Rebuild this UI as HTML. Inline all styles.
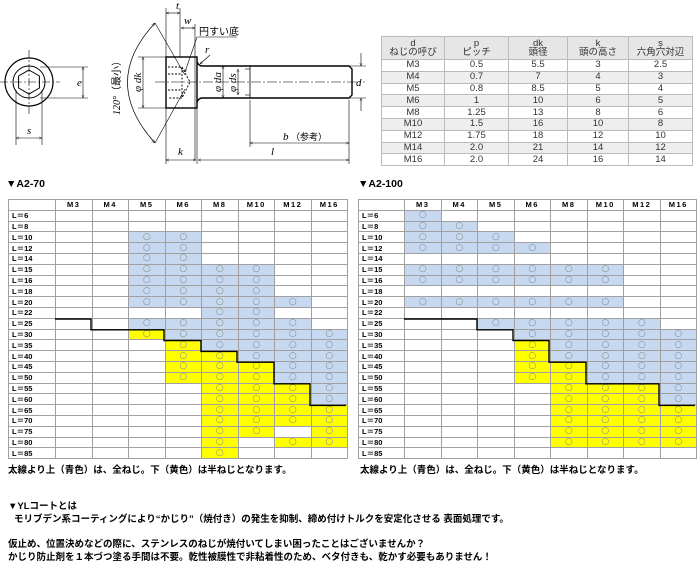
<!DOCTYPE html>
<html><head><meta charset="utf-8">
<style>
body{margin:0;width:700px;height:570px;background:#fff;position:relative;overflow:hidden;font-family:"Liberation Sans","Noto Sans CJK JP",sans-serif;color:#000}
.abs{position:absolute}
table{border-collapse:collapse;table-layout:fixed;position:absolute}
.g td{border:1px solid #a0a0a0;height:9.8px;padding:0;font-size:9px;line-height:9px;text-align:center;color:#888;overflow:hidden;white-space:nowrap;font-family:"DejaVu Sans",sans-serif}
.g td.l{text-align:left;padding-left:3px;font-weight:bold;color:#000;font-size:7.5px;font-family:"Liberation Sans","Noto Sans CJK JP",sans-serif}
.g tr.h td{font-weight:bold;color:#000;letter-spacing:1.5px;font-size:7.5px;font-family:"Liberation Sans",sans-serif}
.g td.b{background:#c6d9f0}
.g td.y{background:#ffff00}
.s td{border:1px solid #bbb;padding:0;font-size:9.5px;text-align:center;color:#333;height:10.8px;line-height:10px}
.s tr.hd td{background:#e6e6e6;line-height:9.5px;height:22px}
.s tr.a td{background:#eeeeee}
.t{font-weight:bold;font-size:10.5px}
.n{font-weight:bold;font-size:9.5px}
</style></head><body>

<svg class="abs" style="left:0;top:0" width="380" height="175" viewBox="0 0 380 175" font-family="Liberation Serif" font-style="italic" font-size="11">
<defs><marker id="a" viewBox="0 0 10 10" refX="10" refY="5" markerWidth="5" markerHeight="5" orient="auto-start-reverse"><path d="M0,1 L10,5 L0,9" fill="none" stroke="#000" stroke-width="1.2"/></marker></defs>
<g stroke="#000" fill="none" stroke-width="1">
<circle cx="29" cy="82" r="24" stroke-width="1.2"/>
<circle cx="29" cy="82" r="16"/>
<polygon points="29,70 39.4,76 39.4,88 29,94 18.6,88 18.6,76"/>
<line x1="0" y1="82" x2="60" y2="82" stroke-width="0.6" stroke-dasharray="8,2,2,2"/>
<line x1="29" y1="50" x2="29" y2="114" stroke-width="0.6" stroke-dasharray="8,2,2,2"/>
<line x1="40" y1="67" x2="88" y2="67" stroke-width="0.6"/>
<line x1="40" y1="98" x2="88" y2="98" stroke-width="0.6"/>
<line x1="83" y1="67" x2="83" y2="98" stroke-width="0.6" marker-start="url(#a)" marker-end="url(#a)"/>
<line x1="16" y1="90" x2="16" y2="145" stroke-width="0.6"/>
<line x1="42" y1="90" x2="42" y2="145" stroke-width="0.6"/>
<line x1="16" y1="138" x2="42" y2="138" stroke-width="0.6" marker-start="url(#a)" marker-end="url(#a)"/>
<rect x="166" y="57" width="31" height="51" stroke-width="1.4"/>
<path d="M197,62 Q199,66 202,66 L349,66 L352,69 L352,95 L349,98 L202,98 Q199,98 197,102" stroke-width="1.4"/>
<line x1="250" y1="66" x2="250" y2="98" stroke-width="0.8"/>
<line x1="245" y1="69" x2="250" y2="69" stroke-width="0.6"/>
<line x1="245" y1="95" x2="250" y2="95" stroke-width="0.6"/>
<path d="M168,67 L182,67 L190,82 L182,98 L168,98 M168,74 L182,74 M168,90 L182,90 M182,67 L182,98" stroke-dasharray="2,1.5" stroke-width="0.9"/>
<line x1="155" y1="82" x2="365" y2="82" stroke-width="0.6" stroke-dasharray="10,2,2,2"/>
<line x1="138" y1="57" x2="166" y2="57" stroke-width="0.6"/>
<line x1="138" y1="108" x2="166" y2="108" stroke-width="0.6"/>
<line x1="143" y1="57" x2="143" y2="108" stroke-width="0.6" marker-start="url(#a)" marker-end="url(#a)"/>
<path d="M155,23 Q100,82 155,143" stroke-width="0.7" marker-start="url(#a)" marker-end="url(#a)"/>
<line x1="155" y1="23" x2="185" y2="75" stroke-width="0.6"/>
<line x1="155" y1="143" x2="185" y2="89" stroke-width="0.6"/>
<line x1="166" y1="8" x2="166" y2="57" stroke-width="0.6"/>
<line x1="180" y1="8" x2="180" y2="57" stroke-width="0.6"/>
<line x1="166" y1="13" x2="180" y2="13" stroke-width="0.6" marker-start="url(#a)" marker-end="url(#a)"/>
<line x1="195" y1="24" x2="195" y2="160" stroke-width="0.6"/>
<line x1="181" y1="28" x2="195" y2="28" stroke-width="0.6" marker-start="url(#a)" marker-end="url(#a)"/>
<line x1="197" y1="37" x2="237" y2="37" stroke-width="0.6"/>
<line x1="197" y1="37" x2="185" y2="72" stroke-width="0.6" marker-end="url(#a)"/>
<line x1="210" y1="55" x2="200" y2="64" stroke-width="0.6" marker-end="url(#a)"/>
<line x1="223" y1="66" x2="223" y2="98" stroke-width="0.6" marker-start="url(#a)" marker-end="url(#a)"/>
<line x1="238" y1="69" x2="238" y2="95" stroke-width="0.6" marker-start="url(#a)" marker-end="url(#a)"/>
<line x1="349" y1="66" x2="366" y2="66" stroke-width="0.6"/>
<line x1="349" y1="98" x2="366" y2="98" stroke-width="0.6"/>
<line x1="361" y1="53" x2="361" y2="66" stroke-width="0.6" marker-end="url(#a)"/>
<line x1="361" y1="111" x2="361" y2="98" stroke-width="0.6" marker-end="url(#a)"/>
<line x1="250" y1="100" x2="250" y2="147" stroke-width="0.6"/>
<line x1="349" y1="100" x2="349" y2="164" stroke-width="0.6"/>
<line x1="166" y1="108" x2="166" y2="164" stroke-width="0.6"/>
<line x1="197" y1="108" x2="197" y2="164" stroke-width="0.6"/>
<line x1="250" y1="143" x2="349" y2="143" stroke-width="0.6" marker-start="url(#a)" marker-end="url(#a)"/>
<line x1="166" y1="160" x2="196" y2="160" stroke-width="0.6" marker-start="url(#a)" marker-end="url(#a)"/>
<line x1="198" y1="160" x2="349" y2="160" stroke-width="0.6" marker-start="url(#a)" marker-end="url(#a)"/>
</g>
<g fill="#000">
<text x="77" y="86">e</text><text x="27" y="134">s</text>
<text x="176" y="9">t</text><text x="184" y="24">w</text><text x="205" y="53">r</text>
<text x="356" y="86">d</text><text x="178" y="155">k</text><text x="271" y="155">l</text>
<text x="283" y="140">b</text>
<text x="291" y="140" font-style="normal" font-size="9" font-family="Liberation Sans,Noto Sans CJK JP">（参考）</text>
<text x="199" y="35" font-style="normal" font-size="10" font-family="Liberation Sans,Noto Sans CJK JP">円すい底</text>
<text transform="translate(141,92) rotate(-90)">φ dk</text>
<text transform="translate(221,92) rotate(-90)">φ da</text>
<text transform="translate(236,92) rotate(-90)">φ ds</text>
<text transform="translate(120,115) rotate(-90)" font-size="10">120°<tspan font-style="normal" font-family="Noto Sans CJK JP">（最小）</tspan></text>
</g>
</svg>

<table class="s" style="left:381px;top:36px;width:311px">
<colgroup><col style="width:63px"><col style="width:64px"><col style="width:59px"><col style="width:61px"><col style="width:64px"></colgroup>
<tr class="hd"><td>d<br>ねじの呼び</td><td>p<br>ピッチ</td><td>dk<br>頭径</td><td>k<br>頭の高さ</td><td>s<br>六角穴対辺</td></tr>
<tr><td>M3</td><td>0.5</td><td>5.5</td><td>3</td><td>2.5</td></tr>
<tr class="a"><td>M4</td><td>0.7</td><td>7</td><td>4</td><td>3</td></tr>
<tr><td>M5</td><td>0.8</td><td>8.5</td><td>5</td><td>4</td></tr>
<tr class="a"><td>M6</td><td>1</td><td>10</td><td>6</td><td>5</td></tr>
<tr><td>M8</td><td>1.25</td><td>13</td><td>8</td><td>6</td></tr>
<tr class="a"><td>M10</td><td>1.5</td><td>16</td><td>10</td><td>8</td></tr>
<tr><td>M12</td><td>1.75</td><td>18</td><td>12</td><td>10</td></tr>
<tr class="a"><td>M14</td><td>2.0</td><td>21</td><td>14</td><td>12</td></tr>
<tr><td>M16</td><td>2.0</td><td>24</td><td>16</td><td>14</td></tr>
</table>

<div class="abs t" style="left:6px;top:178px">▼A2-70</div>
<div class="abs t" style="left:358px;top:178px">▼A2-100</div>

<table class="g" style="left:8px;top:199px;width:339px">
<colgroup><col style="width:47px"><col span="8" style="width:36.5px"></colgroup>
<tr class="h"><td class="l"></td><td>M3</td><td>M4</td><td>M5</td><td>M6</td><td>M8</td><td>M10</td><td>M12</td><td>M16</td></tr>
<tr><td class="l">L＝6</td><td></td><td></td><td></td><td></td><td></td><td></td><td></td><td></td></tr>
<tr><td class="l">L＝8</td><td></td><td></td><td></td><td></td><td></td><td></td><td></td><td></td></tr>
<tr><td class="l">L＝10</td><td></td><td></td><td class="b">○</td><td class="b">○</td><td></td><td></td><td></td><td></td></tr>
<tr><td class="l">L＝12</td><td></td><td></td><td class="b">○</td><td class="b">○</td><td></td><td></td><td></td><td></td></tr>
<tr><td class="l">L＝14</td><td></td><td></td><td class="b">○</td><td class="b">○</td><td></td><td></td><td></td><td></td></tr>
<tr><td class="l">L＝15</td><td></td><td></td><td class="b">○</td><td class="b">○</td><td class="b">○</td><td class="b">○</td><td></td><td></td></tr>
<tr><td class="l">L＝16</td><td></td><td></td><td class="b">○</td><td class="b">○</td><td class="b">○</td><td class="b">○</td><td></td><td></td></tr>
<tr><td class="l">L＝18</td><td></td><td></td><td class="b">○</td><td class="b">○</td><td class="b">○</td><td class="b">○</td><td></td><td></td></tr>
<tr><td class="l">L＝20</td><td></td><td></td><td class="b">○</td><td class="b">○</td><td class="b">○</td><td class="b">○</td><td class="b">○</td><td></td></tr>
<tr><td class="l">L＝22</td><td></td><td></td><td></td><td></td><td class="b">○</td><td class="b">○</td><td></td><td></td></tr>
<tr><td class="l">L＝25</td><td></td><td></td><td class="b">○</td><td class="b">○</td><td class="b">○</td><td class="b">○</td><td class="b">○</td><td></td></tr>
<tr><td class="l">L＝30</td><td></td><td></td><td class="y">○</td><td class="b">○</td><td class="b">○</td><td class="b">○</td><td class="b">○</td><td class="b">○</td></tr>
<tr><td class="l">L＝35</td><td></td><td></td><td></td><td class="y">○</td><td class="b">○</td><td class="b">○</td><td class="b">○</td><td class="b">○</td></tr>
<tr><td class="l">L＝40</td><td></td><td></td><td></td><td class="y">○</td><td class="y">○</td><td class="b">○</td><td class="b">○</td><td class="b">○</td></tr>
<tr><td class="l">L＝45</td><td></td><td></td><td></td><td class="y">○</td><td class="y">○</td><td class="y">○</td><td class="b">○</td><td class="b">○</td></tr>
<tr><td class="l">L＝50</td><td></td><td></td><td></td><td class="y">○</td><td class="y">○</td><td class="y">○</td><td class="b">○</td><td class="b">○</td></tr>
<tr><td class="l">L＝55</td><td></td><td></td><td></td><td></td><td class="y">○</td><td class="y">○</td><td class="y">○</td><td class="b">○</td></tr>
<tr><td class="l">L＝60</td><td></td><td></td><td></td><td></td><td class="y">○</td><td class="y">○</td><td class="y">○</td><td class="b">○</td></tr>
<tr><td class="l">L＝65</td><td></td><td></td><td></td><td></td><td class="y">○</td><td class="y">○</td><td class="y">○</td><td class="y">○</td></tr>
<tr><td class="l">L＝70</td><td></td><td></td><td></td><td></td><td class="y">○</td><td class="y">○</td><td class="y">○</td><td class="y">○</td></tr>
<tr><td class="l">L＝75</td><td></td><td></td><td></td><td></td><td class="y">○</td><td class="y">○</td><td></td><td class="y">○</td></tr>
<tr><td class="l">L＝80</td><td></td><td></td><td></td><td></td><td class="y">○</td><td></td><td class="y">○</td><td class="y">○</td></tr>
<tr><td class="l">L＝85</td><td></td><td></td><td></td><td></td><td class="y">○</td><td></td><td></td><td></td></tr>
</table>

<table class="g" style="left:358px;top:199px;width:338px">
<colgroup><col style="width:46px"><col span="8" style="width:36.5px"></colgroup>
<tr class="h"><td class="l"></td><td>M3</td><td>M4</td><td>M5</td><td>M6</td><td>M8</td><td>M10</td><td>M12</td><td>M16</td></tr>
<tr><td class="l">L＝6</td><td class="b">○</td><td></td><td></td><td></td><td></td><td></td><td></td><td></td></tr>
<tr><td class="l">L＝8</td><td class="b">○</td><td class="b">○</td><td></td><td></td><td></td><td></td><td></td><td></td></tr>
<tr><td class="l">L＝10</td><td class="b">○</td><td class="b">○</td><td class="b">○</td><td></td><td></td><td></td><td></td><td></td></tr>
<tr><td class="l">L＝12</td><td class="b">○</td><td class="b">○</td><td class="b">○</td><td class="b">○</td><td></td><td></td><td></td><td></td></tr>
<tr><td class="l">L＝14</td><td></td><td></td><td></td><td></td><td></td><td></td><td></td><td></td></tr>
<tr><td class="l">L＝15</td><td class="b">○</td><td class="b">○</td><td class="b">○</td><td class="b">○</td><td class="b">○</td><td class="b">○</td><td></td><td></td></tr>
<tr><td class="l">L＝16</td><td class="b">○</td><td class="b">○</td><td class="b">○</td><td class="b">○</td><td class="b">○</td><td class="b">○</td><td></td><td></td></tr>
<tr><td class="l">L＝18</td><td></td><td></td><td></td><td></td><td></td><td></td><td></td><td></td></tr>
<tr><td class="l">L＝20</td><td class="b">○</td><td class="b">○</td><td class="b">○</td><td class="b">○</td><td class="b">○</td><td class="b">○</td><td></td><td></td></tr>
<tr><td class="l">L＝22</td><td></td><td></td><td></td><td></td><td></td><td></td><td></td><td></td></tr>
<tr><td class="l">L＝25</td><td></td><td></td><td class="b">○</td><td class="b">○</td><td class="b">○</td><td class="b">○</td><td class="b">○</td><td></td></tr>
<tr><td class="l">L＝30</td><td></td><td></td><td></td><td class="b">○</td><td class="b">○</td><td class="b">○</td><td class="b">○</td><td class="b">○</td></tr>
<tr><td class="l">L＝35</td><td></td><td></td><td></td><td class="y">○</td><td class="b">○</td><td class="b">○</td><td class="b">○</td><td class="b">○</td></tr>
<tr><td class="l">L＝40</td><td></td><td></td><td></td><td class="y">○</td><td class="b">○</td><td class="b">○</td><td class="b">○</td><td class="b">○</td></tr>
<tr><td class="l">L＝45</td><td></td><td></td><td></td><td class="y">○</td><td class="y">○</td><td class="b">○</td><td class="b">○</td><td class="b">○</td></tr>
<tr><td class="l">L＝50</td><td></td><td></td><td></td><td class="y">○</td><td class="y">○</td><td class="b">○</td><td class="b">○</td><td class="b">○</td></tr>
<tr><td class="l">L＝55</td><td></td><td></td><td></td><td></td><td class="y">○</td><td class="y">○</td><td class="y">○</td><td class="b">○</td></tr>
<tr><td class="l">L＝60</td><td></td><td></td><td></td><td></td><td class="y">○</td><td class="y">○</td><td class="y">○</td><td class="b">○</td></tr>
<tr><td class="l">L＝65</td><td></td><td></td><td></td><td></td><td class="y">○</td><td class="y">○</td><td class="y">○</td><td class="y">○</td></tr>
<tr><td class="l">L＝70</td><td></td><td></td><td></td><td></td><td class="y">○</td><td class="y">○</td><td class="y">○</td><td class="y">○</td></tr>
<tr><td class="l">L＝75</td><td></td><td></td><td></td><td></td><td class="y">○</td><td class="y">○</td><td class="y">○</td><td class="y">○</td></tr>
<tr><td class="l">L＝80</td><td></td><td></td><td></td><td></td><td class="y">○</td><td class="y">○</td><td class="y">○</td><td class="y">○</td></tr>
<tr><td class="l">L＝85</td><td></td><td></td><td></td><td></td><td></td><td></td><td></td><td></td></tr>
</table>

<svg class="abs" style="left:0;top:0" width="700" height="570">
<g fill="none" stroke="#000" stroke-width="1.4">
<polyline points="55,319 91,319 91,329.8 164,329.8 164,340.6 201,340.6 201,351.4 237,351.4 237,362.2 274,362.2 274,383.8 310,383.8 310,405.4 346,405.4"/>
<polyline points="404,319 477,319 477,329.8 513,329.8 513,340.6 549,340.6 549,362.2 586,362.2 586,383.8 659,383.8 659,405.4 695,405.4"/>
</g>
</svg>

<div class="abs n" style="left:8px;top:462px">太線より上（青色）は、全ねじ。下（黄色）は半ねじとなります。</div>
<div class="abs n" style="left:360px;top:462px">太線より上（青色）は、全ねじ。下（黄色）は半ねじとなります。</div>

<div class="abs n" style="left:8px;top:498px">▼YLコートとは</div>
<div class="abs n" style="left:14px;top:511px">モリブデン系コーティングにより“かじり”（焼付き）の発生を抑制、締め付けトルクを安定化させる 表面処理です。</div>
<div class="abs n" style="left:8px;top:536px">仮止め、位置決めなどの際に、ステンレスのねじが焼付いてしまい困ったことはございませんか？</div>
<div class="abs n" style="left:8px;top:549px">かじり防止剤を１本づつ塗る手間は不要。乾性被膜性で非粘着性のため、ベタ付きも、乾かす必要もありません！</div>
</body></html>
